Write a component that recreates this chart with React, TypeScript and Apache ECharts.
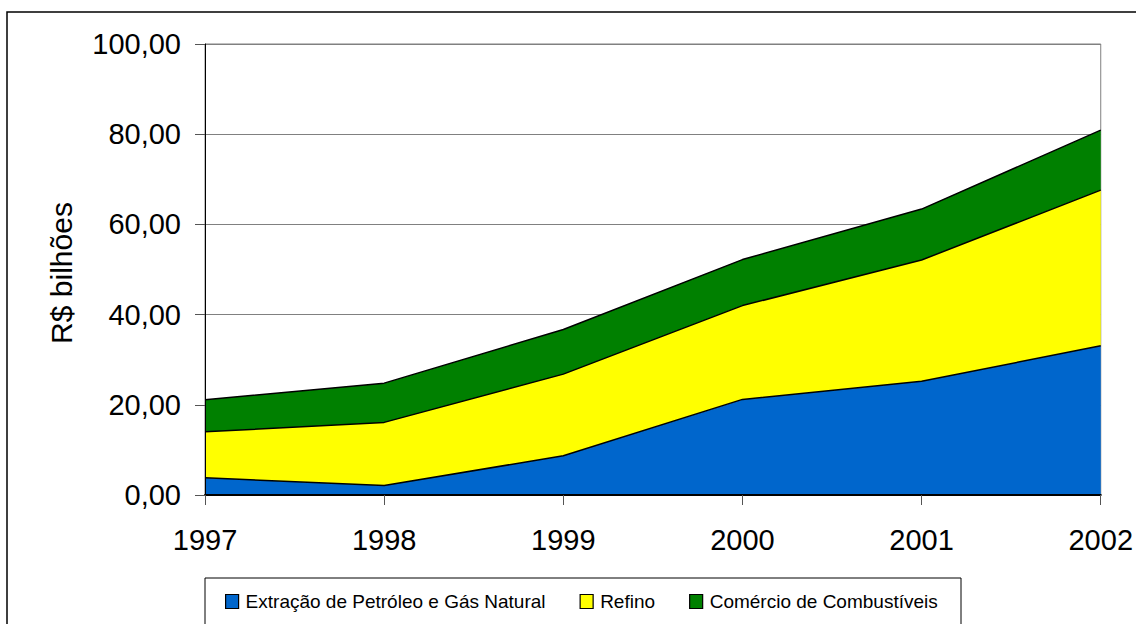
import React, { useEffect, useRef } from "react";
import * as echarts from "echarts";

const years = ["1997", "1998", "1999", "2000", "2001", "2002"];
const extracao = [3.8, 2.1, 8.7, 21.2, 25.2, 33.1];
const refino = [10.2, 14.0, 18.1, 20.8, 26.9, 34.5];
const comercio = [7.1, 8.7, 9.9, 10.2, 11.3, 13.3];
const seriesNames = ["Extração de Petróleo e Gás Natural", "Refino", "Comércio de Combustíveis"];
const seriesColors = ["#0066CC", "#FFFF00", "#008000"];
const yTicks = { min: 0, max: 100, interval: 20 };
const yTitle = "R$ bilhões";

export default function App() {
  const ref = useRef<HTMLDivElement>(null);
  useEffect(() => {
    if (!ref.current) return;
    const chart = echarts.init(ref.current, null, { renderer: "svg" });
    const values = [extracao, refino, comercio];
    const font = "'Liberation Sans', Arial, sans-serif";
    const fmt = (v: number) => v.toFixed(2).replace(".", ",");
    chart.setOption({
      animation: false,
      backgroundColor: "#ffffff",
      grid: {
        left: 205,
        right: 32,
        top: 44,
        bottom: 129,
        show: true,
        borderColor: "#808080",
        borderWidth: 1,
      },
      legend: {
        left: 225,
        top: 592,
        itemWidth: 13,
        itemHeight: 14,
        itemGap: 34,
        icon: "rect",
        padding: 0,
        itemStyle: { borderColor: "#000000", borderWidth: 1.2 },
        textStyle: {
          fontFamily: font,
          fontSize: 19,
          color: "#000000",
          padding: [0, 0, 0, 2],
        },
        data: seriesNames,
      },
      xAxis: {
        type: "category",
        boundaryGap: false,
        data: years,
        axisLine: { show: true, lineStyle: { color: "#000000", width: 2 } },
        axisTick: { show: true, length: 10, lineStyle: { color: "#555555", width: 1 } },
        axisLabel: { fontSize: 29, color: "#000000", margin: 30, fontFamily: font },
        splitLine: { show: false },
        z: 5,
      },
      yAxis: [
        {
          type: "value",
          min: yTicks.min,
          max: yTicks.max,
          interval: yTicks.interval,
          axisLine: { show: false },
          axisTick: { show: false },
          axisLabel: { show: false },
          splitLine: { show: true, lineStyle: { color: "#808080", width: 1 } },
          z: 0,
        },
        {
          type: "value",
          position: "left",
          min: yTicks.min,
          max: yTicks.max,
          interval: yTicks.interval,
          axisLine: { show: true, lineStyle: { color: "#000000", width: 1 } },
          axisTick: { show: true, length: 10, lineStyle: { color: "#555555", width: 1 } },
          axisLabel: {
            fontSize: 29,
            color: "#000000",
            margin: 24,
            fontFamily: font,
            formatter: fmt,
          },
          splitLine: { show: false },
          z: 5,
        },
      ],
      graphic: [
        {
          type: "rect",
          shape: { x: 7, y: 12, width: 1300, height: 800 },
          style: { fill: "none", stroke: "#000000", lineWidth: 1.5 },
          silent: true,
        },
        {
          type: "rect",
          shape: { x: 205, y: 578, width: 756, height: 80 },
          style: { fill: "none", stroke: "#000000", lineWidth: 1 },
          silent: true,
        },
        {
          type: "text",
          x: 61,
          y: 273,
          rotation: Math.PI / 2,
          style: {
            text: yTitle,
            fontSize: 30,
            fontFamily: font,
            fill: "#000000",
            align: "center",
            verticalAlign: "middle",
          },
        },
      ],
      series: values.map((vals, i) => ({
        name: seriesNames[i],
        type: "line",
        stack: "total",
        yAxisIndex: 0,
        data: vals,
        symbol: "none",
        itemStyle: { color: seriesColors[i] },
        lineStyle: { color: "#000000", width: 1.5 },
        areaStyle: { color: seriesColors[i], opacity: 1 },
        z: 2,
      })),
    });
    return () => chart.dispose();
  }, []);
  return (
    <div
      ref={ref}
      style={{ position: "fixed", left: 0, top: 0, width: 1136, height: 624 }}
    />
  );
}
